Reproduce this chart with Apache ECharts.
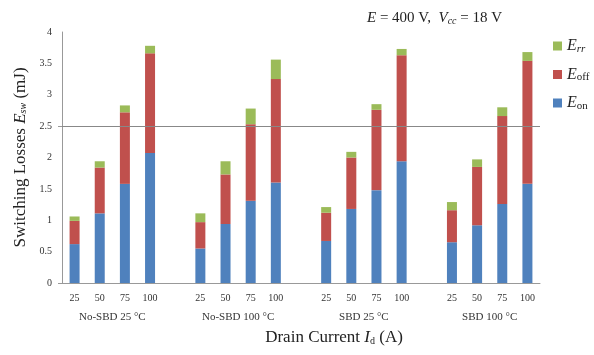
<!DOCTYPE html>
<html>
<head>
<meta charset="utf-8">
<script src="https://cdn.jsdelivr.net/npm/echarts@6/dist/echarts.min.js"></script>
<style>html,body{margin:0;padding:0;background:#fff}#c{width:594px;height:355px}</style>
</head>
<body>
<div id="c"></div>
<script>
// ---- data ----
var groups = ['No-SBD 25 °C', 'No-SBD 100 °C', 'SBD 25 °C', 'SBD 100 °C'];
var currents = ['25', '50', '75', '100'];
var eOn  = [0.62, 1.11, 1.58, 2.07,  0.55, 0.94, 1.31, 1.60,  0.67, 1.18, 1.48, 1.94,  0.65, 0.92, 1.26, 1.58];
var eOff = [0.37, 0.73, 1.14, 1.59,  0.42, 0.79, 1.22, 1.65,  0.45, 0.82, 1.28, 1.69,  0.51, 0.93, 1.40, 1.96];
var eRr  = [0.07, 0.10, 0.11, 0.12,  0.14, 0.21, 0.25, 0.31,  0.09, 0.09, 0.09, 0.10,  0.13, 0.12, 0.14, 0.14];
var yTicks = [0, 0.5, 1, 1.5, 2, 2.5, 3, 3.5, 4];
var refLine = 2.5;

// ---- build category axis with blank slots between groups ----
var cats = [], catLabels = [], idxMap = [];
groups.forEach(function (g, gi) {
  currents.forEach(function (c, ci) {
    cats.push(g + '|' + c); catLabels.push(c); idxMap.push(gi * 4 + ci);
  });
  if (gi < groups.length - 1) { cats.push('gap' + gi); catLabels.push(''); idxMap.push(-1); }
});
function withGaps(arr) { return idxMap.map(function (i) { return i < 0 ? '-' : arr[i]; }); }
var groupCenters = groups.map(function (g, gi) { return gi * 5 + 2; });

var serif = '"Liberation Serif", "DejaVu Serif", serif';

var chart = echarts.init(document.getElementById('c'));
chart.setOption({
  animation: false,
  title: {
    text: '{i|E}{n| = 400 V,  }{i|V}{sub|cc}{n| = 18 V}',
    left: 362, top: 5,
    textStyle: { fontWeight: 'normal', rich: {
      i: { fontFamily: serif, fontStyle: 'italic', fontWeight: 'normal', fontSize: 15, color: '#222' },
      n: { fontFamily: serif, fontWeight: 'normal', fontSize: 15, color: '#222' },
      sub: { fontFamily: serif, fontStyle: 'italic', fontWeight: 'normal', fontSize: 10, color: '#222', padding: [6, 0, 0, 0] }
    } }
  },
  legend: {
    orient: 'vertical', left: 548, top: 33,
    itemWidth: 9, itemHeight: 9, itemGap: 12,
    icon: 'rect',
    data: ['Err', 'Eoff', 'Eon'],
    formatter: function (n) { return '{i|E}{' + (n === 'Err' ? 'si' : 'sub') + '|' + n.slice(1) + '}'; },
    textStyle: { rich: {
      i: { fontFamily: serif, fontStyle: 'italic', fontSize: 16, color: '#222' },
      sub: { fontFamily: serif, fontSize: 11, color: '#222', padding: [6, 0, 0, 0] },
      si: { fontFamily: serif, fontStyle: 'italic', fontSize: 11, color: '#222', padding: [6, 0, 0, 0] }
    } }
  },
  grid: { left: 62, right: 54, top: 32, bottom: 72 },
  xAxis: [{
    type: 'category', data: cats,
    axisLine: { lineStyle: { color: '#999' } },
    axisTick: { show: false },
    axisLabel: { interval: 0, margin: 10, fontFamily: serif, fontSize: 10, color: '#333',
      formatter: function (v, i) { return catLabels[i]; } },
    name: '{n|Drain Current }{i|I}{sub|d}{n| (A)}',
    nameLocation: 'middle', nameGap: 46,
    nameTextStyle: { padding: [0, 0, 0, 66], rich: {
      i: { fontFamily: serif, fontStyle: 'italic', fontSize: 17, color: '#222' },
      n: { fontFamily: serif, fontSize: 17, color: '#222' },
      sub: { fontFamily: serif, fontSize: 10, color: '#222', padding: [7, 0, 0, 0] }
    } }
  }, {
    type: 'value', position: 'bottom', min: 0, max: cats.length,
    axisLine: { show: false }, axisTick: { show: false }, splitLine: { show: false },
    axisLabel: { customValues: groupCenters, margin: 29, fontFamily: serif, fontSize: 11, color: '#333',
      formatter: function (v) { var i = groupCenters.indexOf(v); return i >= 0 ? groups[i] : ''; } }
  }],
  yAxis: {
    type: 'value', min: yTicks[0], max: yTicks[yTicks.length - 1], interval: 0.5,
    axisLine: { show: true, lineStyle: { color: '#999' } },
    axisTick: { show: true, customValues: [0, refLine], length: 4, lineStyle: { color: '#999' } },
    splitLine: { show: false },
    axisLabel: { margin: 10, fontFamily: serif, fontSize: 10, color: '#333', customValues: yTicks },
    name: '{n|Switching Losses }{i|E}{sub|sw}{n| (mJ)}',
    nameLocation: 'middle', nameGap: 28,
    nameTextStyle: { rich: {
      i: { fontFamily: serif, fontStyle: 'italic', fontSize: 17, color: '#222' },
      n: { fontFamily: serif, fontSize: 17, color: '#222' },
      sub: { fontFamily: serif, fontStyle: 'italic', fontSize: 10, color: '#222', padding: [7, 0, 0, 0] }
    } }
  },
  series: [{
    name: 'Eon', type: 'bar', stack: 'sw', barWidth: 10, xAxisIndex: 0,
    itemStyle: { color: '#4F81BD' }, data: withGaps(eOn),
    markLine: { silent: true, symbol: 'none', label: { show: false },
      lineStyle: { color: '#888', width: 1, type: 'solid' }, data: [{ yAxis: refLine }] }
  }, {
    name: 'Eoff', type: 'bar', stack: 'sw', barWidth: 10, xAxisIndex: 0,
    itemStyle: { color: '#C0504D' }, data: withGaps(eOff)
  }, {
    name: 'Err', type: 'bar', stack: 'sw', barWidth: 10, xAxisIndex: 0,
    itemStyle: { color: '#9BBB59' }, data: withGaps(eRr)
  }]
});
</script>
</body>
</html>
